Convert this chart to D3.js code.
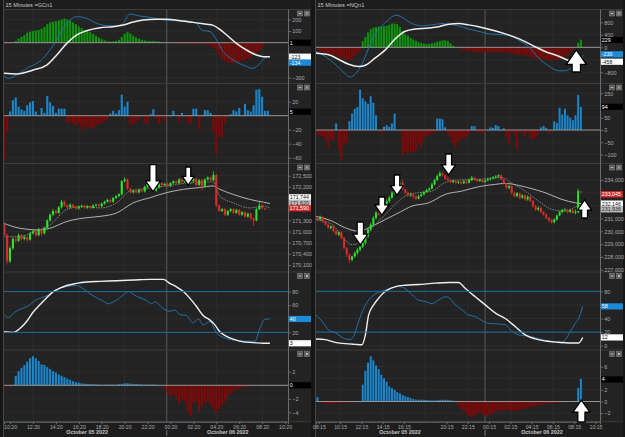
<!DOCTYPE html>
<html>
<head>
<meta charset="utf-8">
<script src="https://cdn.jsdelivr.net/npm/d3@7"></script>
<style>
html, body { margin: 0; padding: 0; background: #161616; }
svg { display: block; font-family: "Liberation Sans", Arial, sans-serif; }
</style>
</head>
<body>
<svg id="chart" width="625" height="437"></svg>
<script>
// ---------- GC (left) ----------
const gcTitle = "15 Minutes =GCn1";
const gcTickLabels = ["10:20","12:20","14:20","16:20","18:20","20:20","22:20","00:20","02:20","04:20","06:20","08:20","10:20"];
const gcTickBars = [2,10,18,26,34,42,50,58,66,74,82,90,98];
const gcGridBars = [10,26,42,74,90];
const gcMidnight = 56.7;
const gcDates = ["October 05 2022","October 06 2022"];
const gcDateBars = [28.9,78];

const gcMacdHist = [-5,-8,-6,3,15,35,50,65,85,95,100,105,110,120,135,160,175,180,185,190,200,210,200,190,175,160,140,125,110,100,90,75,60,45,30,20,12,10,12,15,25,50,75,90,80,60,45,35,25,20,15,15,15,12,10,5,0,-3,-5,-8,-10,-8,-12,-10,-8,-12,-15,-10,-8,-12,-15,-20,-30,-45,-70,-110,-140,-160,-170,-175,-175,-172,-165,-155,-150,-140,-125,-105,-90,-70,-45];
const gcMacd = [[-0.3,-279],[1.4,-307],[4.3,-279],[7.8,-221],[11.3,-178],[13.6,-135],[15.9,-63],[18.3,23],[20.6,124],[22.9,195],[25.2,224],[28.7,210],[32.2,167],[35.7,147],[39.2,144],[41.5,167],[43.8,247],[47.3,230],[50.8,218],[54.3,201],[57.8,190],[62.5,190],[67.1,167],[68.9,109],[71.8,95],[74.1,23],[76.4,-78],[79.9,-149],[83.4,-193],[86.9,-221],[89.2,-178],[91.5,-126],[92.7,-121]];
const gcSignal = [[-0.3,-264],[4.3,-270],[10.1,-236],[14.8,-193],[18.3,-106],[21.8,-6],[25.2,66],[28.7,103],[33.4,129],[38,138],[41.5,152],[45,178],[48.5,195],[53.2,201],[56.6,201],[61.3,190],[65.9,175],[70.6,158],[72.9,149],[75.2,115],[77.6,66],[81,-6],[84.5,-63],[88,-106],[90.4,-121],[92.7,-121]];

const gcDelta = [-63,-23,6,22,26,13,9,7,15,19,21,6,0,11,4,28,19,14,4,10,10,10,-10,-10,-11,-15,-11,-21,-16,-16,-18,-18,-14,-12,-11,-8,-6,3,7,3,8,30,13,20,-14,-11,-10,-6,0,-10,-12,2,9,-4,-12,-4,-8,0,0,7,0,-9,4,0,-10,-11,10,10,-20,0,8,8,4,-23,-55,-29,-31,-9,0,2,8,6,11,0,17,8,6,15,37,38,27,7,7];

// [open, high, low, close]
const gcCandles = [
 [171200,171250,170880,170900],[170900,170950,170120,170200],[170200,170600,170150,170550],[170550,170850,170500,170800],
 [170800,170860,170700,170750],[170750,170950,170720,170900],[170900,170930,170760,170800],[170800,170900,170760,170850],
 [170850,170880,170720,170780],[170780,170990,170750,170950],[170950,171060,170920,171000],[171000,171030,170860,170900],
 [170900,171100,170870,171050],[171050,171080,170880,170950],[170950,171130,170920,171100],[171100,171330,171070,171300],
 [171300,171480,171260,171450],[171450,171600,171420,171550],[171550,171580,171460,171500],[171500,171690,171470,171650],
 [171650,171850,171620,171800],[171800,171830,171670,171700],[171700,171730,171610,171650],[171650,171760,171620,171720],
 [171720,171750,171630,171660],[171660,171690,171580,171620],[171620,171700,171590,171660],[171660,171720,171630,171690],
 [171690,171720,171610,171640],[171640,171710,171610,171680],[171680,171700,171600,171640],[171640,171730,171610,171700],
 [171700,171760,171670,171720],[171720,171750,171650,171680],[171680,171780,171650,171750],[171750,171830,171720,171800],
 [171800,171880,171770,171850],[171850,171880,171760,171800],[171800,171930,171770,171900],[171900,171980,171870,171950],
 [171950,172030,171920,172000],[172000,172380,171970,172350],[172350,172460,172320,172400],[172400,172430,172120,172150],
 [172150,172180,172020,172050],[172050,172130,172020,172100],[172100,172130,172020,172050],[172050,172150,172020,172120],
 [172120,172150,172050,172080],[172080,172230,172050,172200],[172200,172310,172170,172280],[172280,172310,172120,172150],
 [172150,172180,172070,172100],[172100,172210,172070,172180],[172180,172330,172150,172300],[172300,172330,172220,172250],
 [172250,172310,172220,172280],[172280,172310,172190,172220],[172220,172330,172190,172300],[172300,172380,172270,172350],
 [172350,172380,172270,172300],[172300,172430,172270,172400],[172400,172430,172300,172330],[172330,172410,172300,172380],
 [172380,172410,172270,172300],[172300,172380,172270,172350],[172350,172450,172320,172420],[172420,172450,172220,172250],
 [172250,172410,172220,172380],[172380,172410,172100,172200],[172200,172430,172170,172400],[172400,172480,172370,172450],
 [172450,172480,172350,172380],[172380,172620,172350,172520],[172520,172550,171650,171700],[171700,171730,171520,171550],
 [171550,171630,171520,171600],[171600,171630,171420,171450],[171450,171580,171420,171550],[171550,171630,171520,171600],
 [171600,171630,171470,171500],[171500,171610,171470,171580],[171580,171610,171420,171450],[171450,171550,171420,171520],
 [171520,171550,171370,171400],[171400,171510,171370,171480],[171480,171510,171320,171350],[171350,171380,171150,171300],
 [171300,171630,171270,171600],[171600,171800,171570,171700],[171700,171740,171600,171620],[171620,171640,171580,171590]
];
const gcMaSlow = [[-0.3,171223],[5.5,171086],[12.5,171041],[15.9,171086],[21.8,171269],[27.6,171360],[33.4,171406],[39.2,171497],[45,171770],[50.8,171907],[56.6,172044],[62.5,172135],[68.3,172181],[72.9,172226],[75.2,172135],[79.9,171998],[85.7,171862],[90.4,171789],[92.7,171750]];
const gcMaFast = [[0.2,170858],[5.5,170858],[10.1,170995],[15.9,171178],[21.8,171588],[27.6,171679],[33.4,171634],[39.2,171770],[43.8,172090],[47.3,172135],[52,172181],[56.6,172226],[63.6,172300],[68.3,172318],[72.9,172336],[75.2,171953],[79.9,171770],[85.7,171634],[90.4,171679],[92.7,171634]];

const gcStochK = [[-0.3,47],[1.4,42],[3.7,50],[6.1,55],[8.4,59],[10.7,67],[13,71],[15.4,75],[17.7,82],[20,86],[22.9,88],[25.2,89],[27.6,84],[29.9,77],[32.2,71],[34.5,66],[36.3,62],[38,65],[39.8,69],[41.5,75],[43.3,80],[45,76],[47.3,71],[49.7,67],[51.4,62],[52.6,65],[53.7,62],[55.5,55],[57.8,51],[59.5,53],[61.3,46],[63.6,45],[65.9,34],[67.7,40],[69.4,31],[71.8,36],[74.1,19],[77.6,11],[81.1,8],[84.5,7],[87.4,7],[89.2,26],[90.9,39],[92.7,40]];
const gcStochD = [[-0.3,21],[3.2,20],[5.5,26],[7.8,36],[10.1,50],[12.5,61],[14.8,71],[17.1,80],[19.4,85],[21.8,89],[25.2,92],[28.7,94],[33.4,95],[39.2,96],[45,97],[50.8,98],[55.5,98],[57.8,92],[60.1,87],[62.5,80],[64.8,70],[67.1,58],[69.4,45],[71.8,38],[73.5,31],[75.2,21],[77.6,14],[79.9,10],[83.4,6],[86.9,5],[90.4,4],[92.7,4]];

const gcOsc = [-0.2,-0.2,-0.2,0,1.4,2.1,2.6,3.0,3.5,4.0,4.3,4.0,3.6,3.1,3.0,2.7,2.4,2.1,1.9,1.6,1.4,1.2,1.0,0.8,0.6,0.45,0.4,0.3,0.25,0.2,0.2,0.15,0.15,0.1,0.1,0.1,0.1,0.1,0.1,0.1,0.15,0.2,0.3,0.3,0.25,0.2,0.2,0.15,0.15,0.1,0.1,0.1,0.1,0.1,0.05,0.05,-0.5,-1.1,-1.7,-1.3,-1.9,-2.7,-2.1,-2.4,-3.8,-4.6,-2.6,-2.4,-3.8,-3.1,-2.6,-2.4,-2.9,-3.4,-4.1,-3.5,-2.9,-2.4,-1.7,-1.2,-0.9,-0.7,-0.5,-0.35,-0.25,-0.2,-0.1,-0.05];

const gcTicks = [[200,100,0,-100,-200,-300],[20,0,-20,-40,-60],[172500,172200,171900,171600,171300,171000,170700,170400,170100],[80,60,40,20,0],[2,0,-2,-4]];
// [text, value on axis, kind]
const gcBoxes = [
 [["1",0,"black"],["-123",-121,"white"],["-134",-172,"blue"]],
 [["5",5.7,"black"]],
 [["171,744",171919,"white"],["171,620",171774,"gray"],["171,590",171624,"red"]],
 [["40",39.7,"blue"],["3",4,"white"]],
 [["0",0,"black"]]
];
const gcArrows = [[2,51.9,172070,"down",27,15],[2,64.2,172250,"down",18,12]];

// ---------- NQ (right) ----------
const nqTitle = "15 Minutes =NQn1";
const nqTickLabels = ["08:15","10:15","12:15","14:15","16:15","20:15","22:15","00:15","02:15","04:15","06:15","08:15","10:15"];
const nqTickBars = [0.5,8.5,16.5,24.5,32.5,48.5,56.5,64.5,72.5,80.5,88.5,96.5,104.5];
const nqGridBars = [8.5,24.5,40.5,56.5,72.5,88.5];
const nqMidnight = 63;
const nqDates = ["October 05 2022","October 06 2022"];
const nqDateBars = [31,84.4];

const nqMacdHist = [-80,-110,-150,-185,-200,-215,-240,-260,-320,-350,-380,-400,-410,-370,-280,-180,-100,200,330,480,580,630,650,660,670,680,690,720,760,760,740,650,520,420,370,300,250,210,170,140,120,100,110,130,150,175,200,220,226,200,130,50,10,-30,-60,-80,-100,-130,-140,-155,-160,-165,-160,-155,-155,-155,-160,-160,-165,-160,-165,-170,-180,-190,-210,-230,-240,-250,-260,-280,-300,-320,-340,-370,-380,-390,-400,-405,-410,-400,-390,-370,-340,-300,-240,-160,-80,-20,144,246];
const nqMacd = [[-0.8,-133],[2.9,-287],[6.7,-544],[10.5,-852],[12.3,-954],[14.2,-852],[16.7,-544],[19.2,-31],[21.7,431],[24.2,687],[26.8,893],[29.3,1026],[31.1,995],[33,893],[35.5,759],[39.3,687],[43,718],[46.8,759],[49.3,739],[53,687],[56.8,585],[60.6,513],[64.3,431],[68.1,410],[71.9,380],[75.6,226],[79.4,20],[83.1,-339],[86.9,-595],[90.7,-749],[93.2,-749],[95.6,-646],[98.2,-441],[100.1,-236]];
const nqSignal = [[-0.8,-185],[4.2,-236],[8,-390],[11.7,-544],[15.5,-616],[18,-575],[21.7,-339],[25.5,-82],[29.3,277],[33,513],[36.8,585],[41.8,616],[45.5,657],[49.3,739],[53,759],[56.8,718],[60.6,657],[65.6,554],[70.6,431],[75.6,277],[80.6,72],[85.6,-133],[90.7,-287],[94.4,-421],[96.9,-472],[99.4,-458]];

const nqDelta = [-20,-23,-27,-40,-71,-34,-44,27,-80,-121,-58,-50,36,67,87,94,165,130,117,107,138,111,60,0,-17,13,20,13,27,67,0,0,-103,-87,-98,-87,-90,-87,-54,-71,-38,-23,-17,-17,-7,47,47,44,11,-20,-31,-54,-71,-47,-34,-36,-27,-17,16,16,-13,-7,-17,-7,0,11,9,20,16,0,7,-27,-58,-7,-17,-80,-7,-7,-27,-7,-31,-40,-31,-17,11,17,9,-13,0,36,29,91,63,87,60,50,40,60,143,94];

const nqCandles = [
 [231050,231180,230790,230920],[230920,231230,230790,231130],[231130,231180,230660,230790],[230790,230870,230450,230530],
 [230530,230610,230190,230270],[230270,230450,230140,230400],[230400,230450,229880,230010],[230010,230090,229670,229750],
 [229750,230010,229620,229930],[229930,230010,229360,229480],[229480,229560,228570,228700],[228700,228780,228000,228180],
 [228180,228310,227530,227790],[227790,228100,227660,228050],[228050,228440,227920,228310],[228310,228700,228180,228570],
 [228570,228880,228440,228780],[228780,229230,228700,229100],[229100,229670,228960,229620],[229620,230270,229480,230140],
 [230140,230660,230010,230530],[230530,231180,230400,231050],[231050,231580,230920,231440],[231440,231580,231180,231310],
 [231310,231830,231230,231700],[231700,232100,231580,231960],[231960,232490,231830,232360],[232360,232750,232230,232620],
 [232620,233140,232540,233010],[233010,233530,232880,233400],[233400,233790,233270,233660],[233660,234000,233530,233790],
 [233790,234050,233220,233270],[233270,233320,232880,233010],[233010,233140,232700,232800],[232800,233010,232700,232880],
 [232880,232960,232540,232700],[232700,232800,232440,232540],[232540,232850,232490,232750],[232750,233010,232700,232880],
 [232880,233140,232800,233060],[233060,233320,233010,233220],[233220,233430,233110,233320],[233320,233790,233270,233660],
 [233660,234110,233580,234000],[234000,234440,233920,234310],[234310,234700,234260,234520],[234520,234630,234260,234370],
 [234370,234440,234000,234110],[234110,234260,233900,234000],[234000,234110,233740,233840],[233840,234050,233740,233920],
 [233920,234000,233660,233790],[233790,233950,233690,233840],[233840,233950,233640,233740],[233740,234000,233690,233900],
 [233900,234000,233690,233790],[233790,234110,233740,234000],[234000,234310,233920,234180],[234180,234260,233950,234050],
 [234050,234160,233840,233920],[233920,234110,233840,234000],[234000,234110,233790,233840],[233840,234050,233790,233950],
 [233950,234160,233900,234050],[234050,234210,233970,234110],[234110,234310,234050,234180],[234180,234370,234110,234260],
 [234260,234440,234180,234370],[234370,234470,234000,234050],[234050,234110,233640,233740],[233740,233790,233270,233400],
 [233400,233640,233270,233530],[233530,233580,232880,233010],[233010,233110,232620,232750],[232750,233060,232640,232960],
 [232960,233010,232490,232620],[232620,232900,232540,232800],[232800,232880,232360,232490],[232490,232800,232380,232700],
 [232700,232750,232280,232360],[232360,232440,231830,231960],[231960,232070,231580,231700],[231700,231960,231580,231830],
 [231830,231910,231390,231500],[231500,231580,231180,231310],[231310,231390,230920,231050],[231050,231130,230710,230870],
 [230870,230970,230610,230710],[230710,231030,230610,230920],[230920,231310,230820,231230],[231230,231600,231180,231500],
 [231500,231760,231390,231650],[231650,231810,231550,231700],[231700,231760,231390,231500],[231500,231760,231440,231650],
 [231650,231700,231370,231440],[231440,231700,231310,231500],[231500,233320,231390,233140],[233100,233140,232980,233045]
];
const nqMaSlow = [[-0.8,231181],[5.5,230790],[10.5,230268],[15.5,230007],[20.5,230398],[25.5,230920],[30.5,231442],[35.5,231964],[41.8,232225],[48,232878],[54.3,233138],[60.6,233478],[66.9,233660],[70.6,233739],[75.6,233582],[80.6,233321],[85.6,233008],[91.9,232486],[96.9,232225],[99.4,232146]];
const nqMaFast = [[-0.8,230920],[5.5,230530],[9.2,229615],[13,228962],[16.7,229224],[20.5,230268],[25.5,231312],[30.5,232355],[34.3,232878],[38,233008],[43,233138],[48,233791],[53,234000],[60.6,234052],[69.4,234183],[73.1,233739],[78.1,233138],[83.1,232355],[88.2,231703],[93.2,231572],[98.2,231964],[99.7,231936]];

const nqStochK = [[-0.8,46],[1.7,36],[4.2,23],[6.7,19],[8.6,14],[10.5,10],[12.3,9],[13.6,14],[15.5,36],[17.4,55],[19.2,67],[21.7,76],[24.2,80],[28,85],[30.5,87],[33,84],[35.5,75],[38,67],[40.5,65],[43,62],[45.5,67],[48,72],[49.3,71],[51.8,60],[54.3,53],[56.8,45],[59.3,43],[61.8,37],[64.3,33],[68.1,32],[70.6,31],[73.1,21],[75.6,16],[79.4,14],[84.4,9],[88.2,6],[91.3,4],[93.2,9],[95.1,21],[96.9,33],[98.2,40],[99.7,58]];
const nqStochD = [[-0.8,10],[2.9,9],[6.7,5],[10.5,3],[14.2,2],[16.7,1.5],[18,16],[19.2,45],[21.1,60],[23,70],[25.5,80],[29.3,87],[33,89],[38,90],[44.3,92],[49.3,93],[53,93],[55.6,84],[59.3,72],[63.1,60],[66.9,48],[70.6,40],[74.4,28],[78.1,16],[81.9,10],[85.6,7],[90.7,5],[94.4,4],[98.2,4],[99.7,12]];

const nqOsc = [0.75,-0.1,-0.2,-0.4,-0.5,-0.5,-0.4,-0.3,-0.3,-0.25,-0.25,-0.2,-0.1,-0.05,0,0,0,2.9,5.3,6.7,7.8,7.1,6.2,5.6,4.6,4.0,3.4,2.6,2.3,2.0,1.6,1.4,1.1,0.9,0.75,0.6,0.45,0.35,0.3,0.3,0.3,0.25,0.2,0.2,0.2,0.2,0.25,0.3,0.3,0.3,0.2,0.15,0.1,-0.7,-1.25,-1.65,-2.1,-2.6,-2.7,-2.4,-2.1,-2.0,-2.1,-2.4,-2.6,-2.2,-2.0,-1.8,-1.65,-1.55,-1.5,-1.4,-1.4,-1.7,-1.6,-1.45,-1.4,-1.35,-1.15,-1.05,-1.0,-0.85,-0.75,-0.65,-0.55,-0.45,-0.4,-0.38,-0.33,-0.28,-0.2,-0.12,-0.08,-0.05,0,0,0,0,2.3,3.9];

const nqTicks = [[800,400,0,-400,-800],[150,100,50,0,-50,-100],[234000,233000,232000,231000,230000,229000,228000,227000],[80,60,40,20,0],[6,4,2,0,-2]];
const nqBoxes = [
 [["229",234,"black"],["-230",-224,"blue"],["-458",-461,"white"]],
 [["94",95,"black"]],
 [["233,045",232885,"red"],["232,146",232160,"white"],["231,936",231716,"gray"]],
 [["58",57.8,"blue"],["12",12.2,"white"]],
 [["4",3.8,"black"]]
];
const nqArrows = [[2,16.1,228934,"down",23,15],[2,24.2,231272,"down",18,14],[2,29.9,232831,"down",20,13],[2,49.3,234390,"down",21,14],[2,100.4,232441,"up",18,14],[0,97.3,-86,"up",22,20],[4,99.2,0.26,"up",22,17]];

const stochLevels = [80, 20];

// ---------- drawing ----------
const svg = d3.select("#chart");
const defs = svg.append("defs");
const bands = [[9.5, 83.5], [83.5, 163.5], [163.5, 272], [272, 350], [350, 421.7]];
const pal = {
    frame: "#1d1d1d", plot: "#232323", grid: "#2c2c2c", sep: "#3c3c3c", axis: "#6c6c6c", text: "#a9a9a9",
    green: "#0e950e", red: "#820707", blue: "#1b86cc", up: "#2be42b", down: "#e02a2a",
    macdBlue: "#2272aa", level: "#1f6d9d", white: "#efefef", zero: "#a0a0a0"
};
const boxStyle = {
    black: ["#000", "#fff"], white: ["#fff", "#111"], blue: ["#1b8ad8", "#fff"],
    gray: ["#bdbdbd", "#222"], red: ["#d42a2a", "#fff"]
};
const boxH = 6.2;

function arrowPath(dir, len, w) {
    const hh = w * 0.72, sw = w * 0.42;
    const s = dir === "down" ? -1 : 1;
    const pts = [[0, 0], [w / 2, s * hh], [sw / 2, s * hh], [sw / 2, s * len], [-sw / 2, s * len], [-sw / 2, s * hh], [-w / 2, s * hh]];
    return "M" + pts.map(p => p.join(",")).join("L") + "Z";
}

function drawInstrument(c) {
    const g = svg.append("g");
    const x = d3.scaleLinear().domain(c.barDomain).range([c.left, c.right]);
    const ys = c.domains.map((d, k) => d3.scaleLinear().domain(d).range([bands[k][1], bands[k][0]]));
    const top = bands[0][0], bottom = bands[4][1];
    const outerRight = c.right + 23;

    g.append("rect").attr("x", c.left - 1).attr("y", 0).attr("width", outerRight - c.left + 1).attr("height", 437).attr("fill", pal.frame);
    g.append("rect").attr("x", c.left).attr("y", top).attr("width", outerRight - c.left).attr("height", bottom - top).attr("fill", pal.plot);
    g.append("line").attr("x1", c.left - 0.5).attr("x2", c.left - 0.5).attr("y1", 0).attr("y2", 437).attr("stroke", "#474747");

    g.append("text").attr("x", c.left + 1.5).attr("y", 6.8).attr("fill", "#c9c9c9").attr("font-size", 5.6).text(c.title);

    // vertical grid
    g.selectAll(null).data(c.gridBars).join("line")
        .attr("x1", d => x(d)).attr("x2", d => x(d)).attr("y1", top).attr("y2", bottom)
        .attr("stroke", pal.grid);

    // horizontal grid per band
    ys.forEach((y, k) => {
        g.selectAll(null).data(c.ticks[k]).join("line")
            .attr("x1", c.left).attr("x2", c.right).attr("y1", d => y(d)).attr("y2", d => y(d))
            .attr("stroke", pal.grid);
    });

    // day separator
    g.append("line").attr("x1", x(c.midnight)).attr("x2", x(c.midnight)).attr("y1", top).attr("y2", bottom)
        .attr("stroke", "#5a5a5a");

    // band separators
    bands.forEach(b => {
        g.append("line").attr("x1", c.left).attr("x2", outerRight).attr("y1", b[0]).attr("y2", b[0]).attr("stroke", pal.sep);
    });
    g.append("line").attr("x1", c.left).attr("x2", outerRight).attr("y1", bottom).attr("y2", bottom).attr("stroke", pal.sep);

    // clip per band
    const layers = bands.map((b, k) => {
        defs.append("clipPath").attr("id", c.id + k).append("rect")
            .attr("x", c.left).attr("y", b[0]).attr("width", c.right - c.left).attr("height", b[1] - b[0]);
        return g.append("g").attr("clip-path", `url(#${c.id}${k})`);
    });

    function histogram(k, values, upColor, downColor) {
        const y = ys[k];
        layers[k].selectAll(null).data(values).join("rect")
            .attr("x", (d, i) => x(i) - c.barW / 2)
            .attr("y", d => y(Math.max(0, d)))
            .attr("width", c.barW)
            .attr("height", d => Math.max(0.4, Math.abs(y(d) - y(0))))
            .attr("fill", d => d >= 0 ? upColor : downColor);
    }

    function zeroLine(k) {
        layers[k].append("line").attr("x1", c.left).attr("x2", c.right)
            .attr("y1", ys[k](0)).attr("y2", ys[k](0)).attr("stroke", pal.zero).attr("stroke-width", 0.9);
    }

    function curve(k, pts, color, width, dash) {
        const line = d3.line().x(d => x(d[0])).y(d => ys[k](d[1])).curve(d3.curveMonotoneX);
        layers[k].append("path").datum(pts).attr("d", line)
            .attr("fill", "none").attr("stroke", color).attr("stroke-width", width)
            .attr("stroke-dasharray", dash || null);
    }

    // band 0: MACD
    histogram(0, c.macdHist, pal.green, pal.red);
    zeroLine(0);
    curve(0, c.macd, pal.macdBlue, 1);
    curve(0, c.signal, pal.white, 1.5);

    // band 1: delta histogram
    histogram(1, c.delta, pal.blue, pal.red);
    zeroLine(1);

    // band 2: candles with averages
    curve(2, c.maSlow, "#c4c4c4", 0.9);
    curve(2, c.maFast, "#8e8e8e", 0.9, "1.5,1");
    const cg = layers[2].selectAll(null).data(c.candles).join("g");
    cg.append("line")
        .attr("x1", (d, i) => x(i)).attr("x2", (d, i) => x(i))
        .attr("y1", d => ys[2](d[1])).attr("y2", d => ys[2](d[2]))
        .attr("stroke", d => d[3] >= d[0] ? pal.up : pal.down).attr("stroke-width", 0.8);
    cg.append("rect")
        .attr("x", (d, i) => x(i) - c.barW / 2)
        .attr("y", d => ys[2](Math.max(d[0], d[3])))
        .attr("width", c.barW)
        .attr("height", d => Math.max(0.8, Math.abs(ys[2](d[0]) - ys[2](d[3]))))
        .attr("fill", d => d[3] >= d[0] ? pal.up : pal.down);

    // band 3: stochastic
    stochLevels.forEach(v => {
        g.append("line").attr("x1", c.left).attr("x2", c.right).attr("y1", ys[3](v)).attr("y2", ys[3](v))
            .attr("stroke", pal.level).attr("stroke-width", 1);
    });
    curve(3, c.stochK, pal.macdBlue, 1);
    curve(3, c.stochD, pal.white, 1.4);

    // band 4: oscillator
    histogram(4, c.osc, pal.blue, pal.red);
    zeroLine(4);

    // right axes
    g.append("line").attr("x1", c.right + 0.5).attr("x2", c.right + 0.5).attr("y1", top).attr("y2", bottom)
        .attr("stroke", pal.axis);
    ys.forEach((y, k) => {
        // tick labels that sit under a value box are hidden by it, as in the source
        const boxYs = c.boxes[k].map(b => y(b[1]));
        const shown = c.ticks[k].filter(t => boxYs.every(by => Math.abs(y(t) - by) > 4.6));
        const ax = d3.axisRight(y).tickValues(shown).tickSize(2.5).tickPadding(1.2)
            .tickFormat(k === 2 ? d3.format(",") : d3.format("d"));
        const ag = g.append("g").attr("transform", `translate(${c.right + 0.5},0)`).call(ax);
        ag.select(".domain").remove();
        ag.selectAll("line").attr("stroke", pal.axis);
        ag.selectAll("text").attr("fill", pal.text).attr("font-size", 5.5).attr("font-family", "Liberation Sans, Arial, sans-serif");

        // value boxes
        c.boxes[k].forEach(b => {
            const st = boxStyle[b[2]];
            const yy = y(b[1]);
            g.append("rect").attr("x", c.right + 1).attr("y", yy - boxH / 2).attr("width", 22).attr("height", boxH).attr("fill", st[0]);
            g.append("text").attr("x", c.right + 1.8).attr("y", yy + 1.9).attr("fill", st[1])
                .attr("font-size", 5.3).text(b[0]);
        });

        // window buttons
        [9.5, 16.5].forEach((dx, j) => {
            g.append("rect").attr("x", c.right + dx).attr("y", bands[k][0] + 1.5).attr("width", 5).attr("height", 5)
                .attr("fill", "#5c5c5c").attr("stroke", "#8a8a8a").attr("stroke-width", 0.5);
            if (j === 0) {
                g.append("line").attr("x1", c.right + dx + 1.2).attr("x2", c.right + dx + 3.8)
                    .attr("y1", bands[k][0] + 4).attr("y2", bands[k][0] + 4).attr("stroke", "#ddd").attr("stroke-width", 0.7);
            } else {
                g.append("path").attr("d", `M${c.right + dx + 1.3},${bands[k][0] + 2.8}L${c.right + dx + 3.7},${bands[k][0] + 5.2}M${c.right + dx + 3.7},${bands[k][0] + 2.8}L${c.right + dx + 1.3},${bands[k][0] + 5.2}`)
                    .attr("stroke", "#ddd").attr("stroke-width", 0.7);
            }
        });
    });

    // bottom time axis
    const xa = d3.axisBottom(x).tickValues(c.tickBars).tickFormat((d, i) => c.tickLabels[i]).tickSize(2.5).tickPadding(0.8);
    const xg = g.append("g").attr("transform", `translate(0,${bottom})`).call(xa);
    xg.select(".domain").attr("stroke", pal.axis);
    xg.selectAll("line").attr("stroke", pal.axis);
    xg.selectAll("text").attr("fill", pal.text).attr("font-size", 5.2).attr("font-family", "Liberation Sans, Arial, sans-serif");

    g.selectAll(null).data(c.dates).join("text")
        .attr("x", (d, i) => x(c.dateBars[i])).attr("y", 434).attr("text-anchor", "middle")
        .attr("fill", "#c4c4c4").attr("font-size", 5.4).attr("font-weight", "bold").text(d => d);
    g.append("line").attr("x1", x(c.midnight)).attr("x2", x(c.midnight)).attr("y1", 430).attr("y2", 436)
        .attr("stroke", "#8a8a8a").attr("stroke-width", 0.8);

    // annotation arrows
    c.arrows.forEach(a => {
        g.append("path").attr("d", arrowPath(a[3], a[4], a[5]))
            .attr("transform", `translate(${x(a[1])},${ys[a[0]](a[2])})`)
            .attr("fill", "#fff").attr("stroke", "#000").attr("stroke-width", 1.3).attr("stroke-linejoin", "miter");
    });
}

drawInstrument({
    id: "gc", title: gcTitle, left: 4, right: 288, barDomain: [-0.105, 99.02], barW: 2.1,
    domains: [[-352, 286], [-68.3, 46], [169911, 172828], [-5.9, 108.8], [-5.39, 5.23]],
    tickBars: gcTickBars, tickLabels: gcTickLabels, gridBars: gcGridBars, midnight: gcMidnight,
    dates: gcDates, dateBars: gcDateBars, ticks: gcTicks, boxes: gcBoxes, arrows: gcArrows,
    macdHist: gcMacdHist, macd: gcMacd, signal: gcSignal, delta: gcDelta, candles: gcCandles,
    maSlow: gcMaSlow, maFast: gcMaFast, stochK: gcStochK, stochD: gcStochD, osc: gcOsc
});

drawInstrument({
    id: "nq", title: nqTitle, left: 316, right: 600, barDomain: [-0.564, 106.2], barW: 2.0,
    domains: [[-1158, 1210], [-136.7, 190], [226829, 235286], [-6.3, 108.4], [-3.48, 8.88]],
    tickBars: nqTickBars, tickLabels: nqTickLabels, gridBars: nqGridBars, midnight: nqMidnight,
    dates: nqDates, dateBars: nqDateBars, ticks: nqTicks, boxes: nqBoxes, arrows: nqArrows,
    macdHist: nqMacdHist, macd: nqMacd, signal: nqSignal, delta: nqDelta, candles: nqCandles,
    maSlow: nqMaSlow, maFast: nqMaFast, stochK: nqStochK, stochD: nqStochD, osc: nqOsc
});
</script>
</body>
</html>
